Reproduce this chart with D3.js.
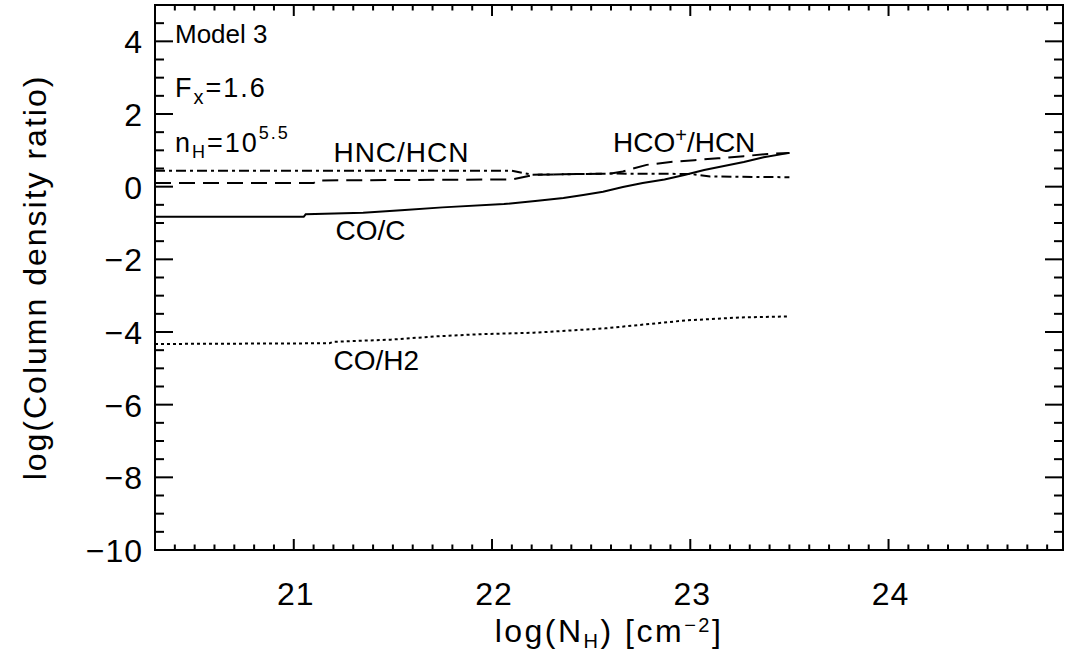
<!DOCTYPE html>
<html>
<head>
<meta charset="utf-8">
<script src="https://cdn.jsdelivr.net/npm/d3@7"></script>
<style>
    body { margin: 0; background: #fff; }
    svg { font-family: "Liberation Sans", Arial, sans-serif; }
</style>
</head>
<body>
<svg width="1065" height="652"></svg>
<script>
// подписи делений
const xTicks = [21, 22, 23, 24];
const yTicks = [-10, -8, -6, -4, -2, 0, 2, 4];

// CO/C
const logNH_COC = [20.3, 21.05, 21.06, 21.35, 21.56, 21.75, 22.06, 22.23, 22.36, 22.46, 22.56, 22.66, 22.76, 22.87, 22.97, 23.07, 23.17, 23.27, 23.37, 23.5];
const ratio_COC = [-0.83, -0.83, -0.76, -0.72, -0.64, -0.57, -0.48, -0.39, -0.31, -0.23, -0.14, -0.01, 0.1, 0.2, 0.32, 0.46, 0.57, 0.68, 0.81, 0.93];

// HCO+/HCN
const logNH_HCO = [20.3, 21.1, 21.12, 22.1, 22.22, 22.6, 22.66, 22.78, 22.9, 23.02, 23.14, 23.27, 23.39, 23.5];
const ratio_HCO = [0.1, 0.1, 0.17, 0.2, 0.33, 0.36, 0.42, 0.6, 0.68, 0.73, 0.78, 0.84, 0.9, 0.93];

// HNC/HCN
const logNH_HNC = [20.3, 22.1, 22.2, 22.6, 23.0, 23.1, 23.5];
const ratio_HNC = [0.44, 0.44, 0.33, 0.36, 0.35, 0.28, 0.26];

// CO/H2
const logNH_COH2 = [20.3, 21.18, 21.2, 21.49, 21.72, 21.94, 22.21, 22.57, 22.83, 22.98, 23.25, 23.5];
const ratio_COH2 = [-4.33, -4.31, -4.27, -4.21, -4.12, -4.06, -4.02, -3.9, -3.76, -3.68, -3.6, -3.57];

const svg = d3.select("svg");

// область вывода графика
const attr_area = { left: 155, right: 1063, top: 5, bottom: 550 };

const scX = d3.scaleLinear().domain([20.3, 24.88]).range([attr_area.left, attr_area.right]);
const scY = d3.scaleLinear().domain([-10, 5]).range([attr_area.bottom, attr_area.top]);

function createAxis() {
    const g = svg.append("g").attr("stroke", "#000").attr("stroke-width", 2);
    // мелкие и крупные деления по OX (снизу и сверху)
    const xMinor = d3.range(203, 249).map(d => d / 10);
    for (let v of xMinor) {
        const major = Math.abs(v - Math.round(v)) < 1e-6;
        const len = major ? 11 : 5.5;
        g.append("line").attr("x1", scX(v)).attr("x2", scX(v))
            .attr("y1", attr_area.bottom).attr("y2", attr_area.bottom - len);
        g.append("line").attr("x1", scX(v)).attr("x2", scX(v))
            .attr("y1", attr_area.top).attr("y2", attr_area.top + len);
    }
    // деления по OY (слева и справа)
    const yMinor = d3.range(-20, 11).map(d => d / 2);
    for (let v of yMinor) {
        const major = v % 2 == 0;
        const len = major ? 18 : 9;
        g.append("line").attr("y1", scY(v)).attr("y2", scY(v))
            .attr("x1", attr_area.left).attr("x2", attr_area.left + len);
        g.append("line").attr("y1", scY(v)).attr("y2", scY(v))
            .attr("x1", attr_area.right).attr("x2", attr_area.right - len);
    }
    // рамка
    svg.append("rect")
        .attr("x", attr_area.left).attr("y", attr_area.top)
        .attr("width", attr_area.right - attr_area.left)
        .attr("height", attr_area.bottom - attr_area.top)
        .attr("fill", "none").attr("stroke", "#000").attr("stroke-width", 2);

    svg.selectAll(".xlab").data(xTicks).enter().append("text")
        .attr("x", d => scX(d) + 2).attr("y", 605)
        .attr("text-anchor", "middle").attr("font-size", 32)
        .attr("letter-spacing", 1)
        .text(d => d);
    svg.selectAll(".ylab").data(yTicks).enter().append("text")
        .attr("x", 143).attr("y", d => scY(d) + 12)
        .attr("text-anchor", "end").attr("font-size", 32)
        .attr("letter-spacing", 1)
        .text(d => d < 0 ? "\u2212" + Math.abs(d) : d);

    // подписи осей
    const xt = svg.append("text").attr("x", 609).attr("y", 642)
        .attr("text-anchor", "middle").attr("font-size", 32)
        .attr("letter-spacing", 2.5);
    xt.append("tspan").text("log(N");
    xt.append("tspan").attr("font-size", 20).attr("dy", 6).text("H");
    xt.append("tspan").attr("dy", -6).text(")  [cm");
    xt.append("tspan").attr("font-size", 20).attr("dy", -10).text("\u22122");
    xt.append("tspan").attr("dy", 10).text("]");

    svg.append("text")
        .attr("transform", `translate(46, ${(attr_area.top + attr_area.bottom) / 2}) rotate(-90)`)
        .attr("text-anchor", "middle").attr("font-size", 32)
        .attr("letter-spacing", 2)
        .text("log(Column density ratio)");
}

function createChart(xs, ys, dash) {
    const line = d3.line().x(d => scX(d[0])).y(d => scY(d[1]));
    svg.append("path")
        .datum(d3.zip(xs, ys))
        .attr("d", line)
        .attr("fill", "none")
        .attr("stroke", "#000")
        .attr("stroke-width", 2)
        .attr("stroke-dasharray", dash);
}

createAxis();
createChart(logNH_COC, ratio_COC, null);
createChart(logNH_HCO, ratio_HCO, "16,8");
createChart(logNH_HNC, ratio_HNC, "10,4,3,4");
createChart(logNH_COH2, ratio_COH2, "3,3");

// надписи на графике
function label(x, y, parts, size, ls) {
    const t = svg.append("text").attr("x", x).attr("y", y)
        .attr("font-size", size).attr("letter-spacing", ls || 0);
    for (let p of parts) {
        t.append("tspan").attr("font-size", p.s || size).attr("dy", p.dy || 0).text(p.t);
    }
}
label(attr_area.left + 20, 43, [{ t: "Model 3" }], 26);
label(attr_area.left + 20, 97, [{ t: "F" }, { t: "x", s: 20, dy: 7 }, { t: "=1.6", dy: -7 }], 27, 2);
label(attr_area.left + 20, 152, [{ t: "n" }, { t: "H", s: 18, dy: 6 }, { t: "=10", dy: -6 }, { t: "5.5", s: 18, dy: -13 }], 27, 2);
label(scX(21.2), scY(0.68), [{ t: "HNC/HCN" }], 28, 1);
label(scX(22.61), scY(0.96), [{ t: "HCO" }, { t: "+", s: 20, dy: -10 }, { t: "/HCN", dy: 10 }], 28);
label(scX(21.21), scY(-1.47), [{ t: "CO/C" }], 28);
label(scX(21.2), scY(-5.05), [{ t: "CO/H2" }], 28);
</script>
</body>
</html>
